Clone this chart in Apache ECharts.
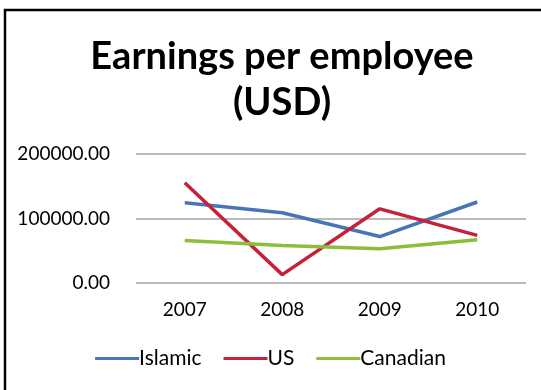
<!DOCTYPE html>
<html>
<head>
<meta charset="utf-8">
<script src="https://cdn.jsdelivr.net/npm/echarts@6/dist/echarts.min.js"></script>
<style>
  html, body { margin: 0; padding: 0; background: #fff; }
  #chart { width: 541px; height: 390px; }
</style>
</head>
<body>
<div id="chart"></div>
<script>
// Earnings per employee by bank type, 2007–2010 (USD)
const years = ['2007', '2008', '2009', '2010'];
const islamic = [124500, 109000, 72000, 125600];
const us = [155500, 13000, 115000, 73800];
const canadian = [66000, 58000, 53000, 67100];
const yTicks = [0, 100000, 200000];

const FONT = 'Lato';
const chart = echarts.init(document.getElementById('chart'), null, { renderer: 'canvas' });

function lineSeries(name, data, color) {
  return {
    name: name,
    type: 'line',
    data: data,
    symbol: 'none',
    smooth: false,
    lineStyle: { color: color, width: 3.5 },
    itemStyle: { color: color }
  };
}

chart.setOption({
  backgroundColor: '#fff',
  animation: false,
  graphic: [{
    type: 'rect',
    shape: { x: 5, y: 10, width: 600, height: 500 },
    style: { fill: 'none', stroke: '#000', lineWidth: 2.5 },
    silent: true
  }],
  title: {
    text: 'Earnings per employee\n(USD)',
    left: 277,
    textAlign: 'center',
    top: 29,
    textStyle: {
      fontFamily: FONT,
      fontWeight: 'bold',
      fontSize: 38,
      color: '#000',
      lineHeight: 46
    }
  },
  legend: {
    data: ['Islamic', 'US', 'Canadian'],
    bottom: 16,
    left: 'center',
    icon: 'rect',
    itemWidth: 44,
    itemHeight: 3,
    itemGap: 22,
    textStyle: { fontFamily: FONT, fontSize: 21, color: '#000', padding: [0, 0, 0, -5] }
  },
  grid: { left: 136, right: 15, top: 154, bottom: 107 },
  xAxis: {
    type: 'category',
    data: years,
    boundaryGap: true,
    axisLine: { show: false },
    axisTick: { show: false },
    axisLabel: { fontFamily: FONT, fontSize: 19, color: '#000', margin: 17 }
  },
  yAxis: {
    type: 'value',
    min: yTicks[0],
    max: yTicks[yTicks.length - 1],
    interval: yTicks[1] - yTicks[0],
    axisLine: { show: false },
    axisTick: { show: false },
    splitLine: { lineStyle: { color: '#a3a3a3', width: 1.5 } },
    axisLabel: {
      fontFamily: FONT,
      fontSize: 19,
      color: '#000',
      margin: 26,
      formatter: v => v.toFixed(2)
    }
  },
  series: [
    lineSeries('Islamic', islamic, '#4a74b8'),
    lineSeries('US', us, '#c62139'),
    lineSeries('Canadian', canadian, '#8cbd3c')
  ]
});
</script>
</body>
</html>
